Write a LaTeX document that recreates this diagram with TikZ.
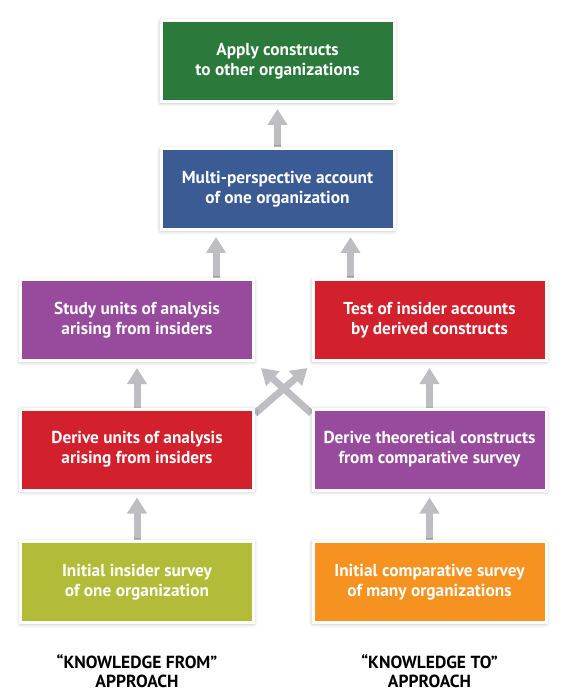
\documentclass[tikz,border=0pt]{standalone}
\usepackage{fontspec}
\setmainfont{PT Sans}
\usepackage{xcolor}
\usetikzlibrary{arrows.meta, shadows.blur, backgrounds}

\definecolor{boxgreen}{RGB}{43,122,59}
\definecolor{boxblue}{RGB}{59,91,148}
\definecolor{boxpurple}{RGB}{152,74,157}
\definecolor{boxred}{RGB}{210,33,45}
\definecolor{boxolive}{RGB}{178,188,56}
\definecolor{boxorange}{RGB}{245,146,32}
\definecolor{arrowgray}{RGB}{190,190,194}

\tikzset{
  stagebox/.style={draw=white, line width=3pt, minimum width=233pt, minimum height=81pt,
    text=white, align=center, font=\fontsize{17.3}{20}\selectfont\bfseries,
    blur shadow={shadow xshift=0pt, shadow yshift=-1pt, shadow blur radius=4pt, shadow opacity=35}},
  uparrow/.style={draw=arrowgray, line width=7pt, -{Triangle[width=19pt, length=16pt]}, shorten >=6pt},
  approach/.style={align=center, inner sep=0pt, font=\fontsize{17.5}{19}\selectfont\bfseries}
}

\begin{document}
\begin{tikzpicture}[x=1pt, y=-1pt]
    \useasboundingbox (0,0) rectangle (567,692);

    % Boites
    \node[stagebox, fill=boxgreen] (apply) at (277.5,61) {Apply constructs\\to other organizations};
    \node[stagebox, fill=boxblue] (multi) at (277.5,189) {Multi-perspective account\\of one organization};
    \node[stagebox, fill=boxpurple] (study) at (137,320) {Study units of analysis\\arising from insiders};
    \node[stagebox, fill=boxred] (test) at (429.5,320) {Test of insider accounts\\by derived constructs};
    \node[stagebox, fill=boxred] (deriveu) at (137,449.5) {Derive units of analysis\\arising from insiders};
    \node[stagebox, fill=boxpurple] (derivet) at (429.5,449.5) {Derive theoretical constructs\\from comparative survey};
    \node[stagebox, fill=boxolive] (insider) at (137,582) {Initial insider survey\\of one organization};
    \node[stagebox, fill=boxorange] (compar) at (429.5,582) {Initial comparative survey\\of many organizations};

    % Approches
    \node[approach] (from) at (137,671) {“KNOWLEDGE FROM”\\APPROACH};
    \node[approach] (to) at (429.5,671) {“KNOWLEDGE TO”\\APPROACH};

    % Dessin des fleches
    \begin{scope}[on background layer]
        \draw[uparrow] (multi.north) -- (apply.south);
        \draw[uparrow] ([xshift=-39pt]study.north east) -- ([xshift=-39pt]study.north east |- multi.south);
        \draw[uparrow] ([xshift=39pt]test.north west) -- ([xshift=39pt]test.north west |- multi.south);
        \draw[uparrow] (deriveu.north) -- (study.south);
        \draw[uparrow] (derivet.north) -- (test.south);
        \draw[uparrow] (insider.north) -- (deriveu.south);
        \draw[uparrow] (compar.north) -- (derivet.south);
        % Fleches croisees
        \draw[uparrow, shorten >=0pt] ([yshift=-6pt]deriveu.north east) -- ([xshift=-4pt,yshift=-6pt]test.south west);
        \draw[uparrow, shorten >=0pt] ([yshift=-6pt]derivet.north west) -- ([xshift=6pt,yshift=-6pt]study.south east);
    \end{scope}
\end{tikzpicture}
\end{document}
